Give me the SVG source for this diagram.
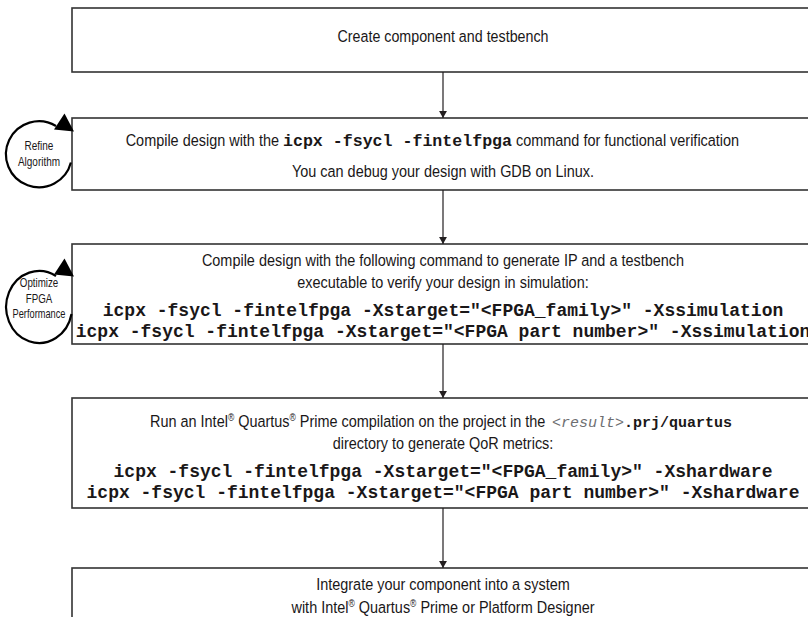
<svg xmlns="http://www.w3.org/2000/svg" width="808" height="617" viewBox="0 0 808 617">
  <style>
    .box { fill: #ffffff; stroke: #333333; stroke-width: 1.6; }
    .sans { font-family: "Liberation Sans", Arial, sans-serif; font-size: 17px; fill: #1a1718; }
    .small { font-family: "Liberation Sans", Arial, sans-serif; font-size: 12.5px; fill: #1a1718; text-anchor: middle; }
    .mono { font-family: "Liberation Mono", "Courier New", monospace; font-weight: bold; font-size: 18px; fill: #1a1718; }
    .mid { text-anchor: middle; }
    .conn { stroke: #231f20; stroke-width: 1.2; fill: none; }
    .loop { stroke: #000000; stroke-width: 2.2; fill: none; }
    .head { fill: #000000; }
  </style>
  <defs>
    <marker id="arrow" viewBox="0 0 8 9" refX="8" refY="4.5" markerWidth="7" markerHeight="8" markerUnits="userSpaceOnUse" orient="auto">
      <path d="M0,0 L8,4.5 L0,9 Z" fill="#231f20"/>
    </marker>
  </defs>

  <rect width="808" height="617" fill="#ffffff"/>

  <!-- step boxes (right edges run past the canvas) -->
  <g id="create">
    <rect class="box" x="72" y="8" width="800" height="64"/>
    <text class="sans mid" transform="translate(443,42) scale(0.84,1)">Create component and testbench</text>
  </g>

  <g id="compile-emulation">
    <rect class="box" x="72" y="118" width="800" height="72"/>
    <text class="sans" text-anchor="end" transform="translate(279,146) scale(0.85,1)">Compile design with the</text>
    <text class="mono" x="283" y="146" style="font-size:16.6px">icpx -fsycl -fintelfpga</text>
    <text class="sans" transform="translate(516,146) scale(0.85,1)">command for functional verification</text>
    <text class="sans mid" transform="translate(443,177) scale(0.85,1)">You can debug your design with GDB on Linux.</text>
  </g>

  <g id="compile-simulation">
    <rect class="box" x="72" y="244" width="800" height="100"/>
    <text class="sans mid" transform="translate(443,266) scale(0.85,1)">Compile design with the following command to generate IP and a testbench</text>
    <text class="sans mid" transform="translate(443,288) scale(0.85,1)">executable to verify your design in simulation:</text>
    <text class="mono mid" x="443" y="316">icpx -fsycl -fintelfpga -Xstarget="&lt;FPGA_family&gt;" -Xssimulation</text>
    <text class="mono mid" x="443" y="337">icpx -fsycl -fintelfpga -Xstarget="&lt;FPGA part number&gt;" -Xssimulation</text>
  </g>

  <g id="compile-hardware">
    <rect class="box" x="72" y="398" width="800" height="110"/>
    <text class="sans" transform="translate(150,427) scale(0.85,1)">Run an Intel<tspan font-size="10" dy="-6">®</tspan><tspan dy="6"> Quartus</tspan><tspan font-size="10" dy="-6">®</tspan><tspan dy="6"> Prime compilation on the project in the</tspan></text>
    <text x="552" y="427" style="font-family:'Liberation Mono','Courier New',monospace;font-style:italic;font-size:15px;fill:#6d6e71">&lt;result&gt;</text>
    <text x="624" y="427" class="mono" style="font-size:15px">.prj/quartus</text>
    <text class="sans mid" transform="translate(443,449) scale(0.85,1)">directory to generate QoR metrics:</text>
    <text class="mono mid" x="443" y="477">icpx -fsycl -fintelfpga -Xstarget="&lt;FPGA_family&gt;" -Xshardware</text>
    <text class="mono mid" x="443" y="498">icpx -fsycl -fintelfpga -Xstarget="&lt;FPGA part number&gt;" -Xshardware</text>
  </g>

  <g id="integrate">
    <rect class="box" x="72" y="568" width="800" height="80"/>
    <text class="sans mid" transform="translate(443,590) scale(0.85,1)">Integrate your component into a system</text>
    <text class="sans mid" transform="translate(443,613) scale(0.85,1)">with Intel<tspan font-size="10" dy="-6">®</tspan><tspan dy="6"> Quartus</tspan><tspan font-size="10" dy="-6">®</tspan><tspan dy="6"> Prime or Platform Designer</tspan></text>
  </g>

  <!-- iteration loops beside the compile steps -->
  <g id="refine-algorithm">
    <path class="loop" d="M70.9,162.5 A33,33 0 1 1 56,126"/>
    <polygon class="head" points="74,131.5 64.5,113.5 54,129.5"/>
    <text class="small" transform="translate(39,150) scale(0.8,1)">Refine</text>
    <text class="small" transform="translate(39,166) scale(0.8,1)">Algorithm</text>
  </g>

  <g id="optimize-performance">
    <path class="loop" d="M71.5,314 A33,36 0 1 1 56,276"/>
    <polygon class="head" points="74,276.5 64.5,258.5 54,274.5"/>
    <text class="small" transform="translate(39,287) scale(0.78,1)">Optimize</text>
    <text class="small" transform="translate(39,303) scale(0.78,1)">FPGA</text>
    <text class="small" transform="translate(39,318) scale(0.74,1)">Performance</text>
  </g>

  <!-- flow connectors -->
  <g id="connectors">
    <line class="conn" x1="443" y1="72" x2="443" y2="118" marker-end="url(#arrow)"/>
    <line class="conn" x1="443" y1="190" x2="443" y2="244" marker-end="url(#arrow)"/>
    <line class="conn" x1="443" y1="344" x2="443" y2="398" marker-end="url(#arrow)"/>
    <line class="conn" x1="443" y1="508" x2="443" y2="568" marker-end="url(#arrow)"/>
  </g>
</svg>
